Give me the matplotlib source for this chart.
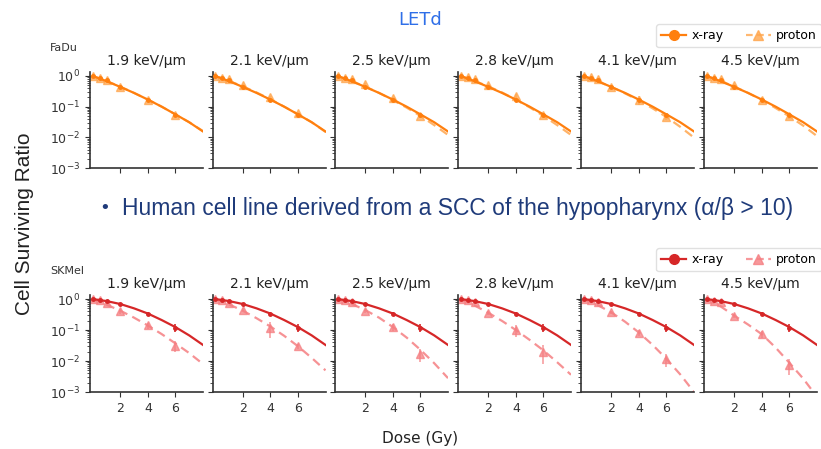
import numpy as np
import matplotlib.pyplot as plt
from matplotlib.lines import Line2D

# panel titles (LETd of the proton beam)
let_labels = ["1.9 keV/µm", "2.1 keV/µm", "2.5 keV/µm", "2.8 keV/µm", "4.1 keV/µm", "4.5 keV/µm"]

# measured doses and dose grid of the fitted curves (Gy)
dose_pts = [0, 0.5, 1, 2, 4, 6]
dose_fit = [0, 1, 2, 3, 4, 5, 6, 7, 8]

# FaDu - x-ray
fadu_xray_pts = [1.0, 0.85, 0.72, 0.45, 0.17, 0.055]
fadu_xray_err = [0, 0, 0, 0.02, 0.01, 0.004]
fadu_xray_fit = [1.0, 0.68, 0.44, 0.28, 0.17, 0.10, 0.056, 0.031, 0.0155]

# FaDu - protons, one list per LETd
fadu_prot_pts = [
    [1.0, 0.85, 0.75, 0.44, 0.17, 0.054],
    [1.0, 0.88, 0.78, 0.51, 0.20, 0.061],
    [1.0, 0.86, 0.78, 0.55, 0.19, 0.048],
    [1.0, 0.92, 0.80, 0.51, 0.22, 0.054],
    [1.0, 0.90, 0.80, 0.43, 0.17, 0.045],
    [1.0, 0.88, 0.78, 0.51, 0.17, 0.048],
]
fadu_prot_err = [
    [0, 0, 0, 0.03, 0.02, 0.006],
    [0, 0, 0, 0.03, 0.02, 0.006],
    [0, 0, 0, 0.03, 0.02, 0.006],
    [0, 0, 0, 0.03, 0.03, 0.006],
    [0, 0, 0, 0.04, 0.06, 0.008],
    [0, 0, 0, 0.03, 0.03, 0.008],
]
fadu_prot_fit = [
    [1.0, 0.68, 0.45, 0.28, 0.17, 0.10, 0.056, 0.031, 0.016],
    [1.0, 0.69, 0.46, 0.29, 0.175, 0.10, 0.057, 0.031, 0.015],
    [1.0, 0.68, 0.45, 0.28, 0.165, 0.093, 0.050, 0.025, 0.012],
    [1.0, 0.69, 0.46, 0.29, 0.17, 0.095, 0.050, 0.025, 0.012],
    [1.0, 0.68, 0.44, 0.27, 0.16, 0.088, 0.046, 0.022, 0.0098],
    [1.0, 0.69, 0.45, 0.28, 0.165, 0.090, 0.048, 0.024, 0.011],
]

# SKMel - x-ray
skmel_xray_pts = [1.0, 0.95, 0.88, 0.70, 0.34, 0.12]
skmel_xray_err = [0, 0, 0, 0.02, 0.03, 0.035]
skmel_xray_fit = [1.0, 0.86, 0.69, 0.50, 0.34, 0.21, 0.124, 0.067, 0.033]

# SKMel - protons
skmel_prot_pts = [
    [1.0, 0.90, 0.72, 0.40, 0.14, 0.031],
    [1.0, 0.92, 0.75, 0.45, 0.115, 0.030],
    [1.0, 0.92, 0.80, 0.40, 0.125, 0.017],
    [1.0, 0.95, 0.78, 0.35, 0.10, 0.020],
    [1.0, 0.92, 0.80, 0.37, 0.083, 0.0116],
    [1.0, 0.88, 0.80, 0.29, 0.074, 0.0076],
]
skmel_prot_err = [
    [0, 0, 0, 0.06, 0.03, 0.012],
    [0, 0, 0, 0.05, 0.06, 0.006],
    [0, 0, 0, 0.05, 0.03, 0.008],
    [0, 0, 0, 0.05, 0.04, 0.012],
    [0, 0, 0, 0.05, 0.02, 0.005],
    [0, 0, 0, 0.05, 0.02, 0.004],
]
skmel_prot_fit = [
    [1.0, 0.66, 0.42, 0.25, 0.14, 0.074, 0.037, 0.018, 0.008],
    [1.0, 0.67, 0.42, 0.24, 0.13, 0.065, 0.030, 0.0126, 0.005],
    [1.0, 0.70, 0.44, 0.25, 0.125, 0.057, 0.023, 0.0085, 0.0028],
    [1.0, 0.62, 0.36, 0.196, 0.10, 0.048, 0.022, 0.0091, 0.0036],
    [1.0, 0.64, 0.37, 0.185, 0.083, 0.033, 0.0117, 0.0037, 0.001],
    [1.0, 0.58, 0.29, 0.15, 0.073, 0.027, 0.0087, 0.0027, 0.0007],
]

W, H = 821, 449
fig = plt.figure(figsize=(W / 100, H / 100), dpi=100)

lefts = [90, 212.5, 335, 458, 581, 704]
pw = 113

rows = [
    # name, top px, bottom px, colour, xray, protons
    ("FaDu", 72, 168, "#ff7f0e", "#ffa64d",
     fadu_xray_pts, fadu_xray_err, fadu_xray_fit, fadu_prot_pts, fadu_prot_err, fadu_prot_fit),
    ("SKMel", 295, 392, "#d62728", "#f57f82",
     skmel_xray_pts, skmel_xray_err, skmel_xray_fit, skmel_prot_pts, skmel_prot_err, skmel_prot_fit),
]

for r, (name, top, bot, c, cp, xp, xe, xf, pp, pe, pf) in enumerate(rows):
    for i in range(6):
        ax = fig.add_axes([lefts[i] / W, 1 - bot / H, pw / W, (bot - top) / H])
        ax.plot(dose_fit, xf, color=c, lw=1.6, zorder=3)
        ax.errorbar(dose_pts, xp, yerr=xe, fmt="o", ms=2.5, color=c, elinewidth=1.2, zorder=3)
        ax.plot(dose_fit, pf[i], color=cp, lw=1.6, ls=(0, (4, 2.5)), alpha=0.85, zorder=2)
        ax.errorbar(dose_pts, pp[i], yerr=pe[i], fmt="^", ms=6, color=cp, alpha=0.75,
                    elinewidth=1.2, zorder=2)
        ax.set_yscale("log")
        ax.set_ylim(1e-3, 1.35)
        ax.set_xlim(-0.2, 8)
        ax.set_xticks([2, 4, 6])
        ax.set_yticks([1e-3, 1e-2, 1e-1, 1])
        ax.spines["top"].set_visible(False)
        ax.spines["right"].set_visible(False)
        for s in ["left", "bottom"]:
            ax.spines[s].set_color("#333333")
            ax.spines[s].set_linewidth(1.2)
        ax.tick_params(labelsize=9, colors="#333333", length=3.5)
        ax.tick_params(which="minor", length=2, colors="#333333")
        if i > 0:
            ax.tick_params(labelleft=False)
        if r == 0:
            ax.tick_params(labelbottom=False)
        ax.set_title(let_labels[i], fontsize=10, color="#222222", pad=5)
    fig.text(50 / W, 1 - (top - 24) / H, name, fontsize=8, color="#333333", va="center")

    handles = [
        Line2D([], [], color=c, lw=1.6, marker="o", ms=7),
        Line2D([], [], color=cp, lw=1.6, ls=(0, (3, 2)), marker="^", ms=7, alpha=0.8),
    ]
    leg_top = 18 if r == 0 else 242
    fig.legend(handles, ["x-ray", "proton"], ncol=2, fontsize=9, loc="upper left",
               bbox_to_anchor=(650 / W, 1 - leg_top / H), handlelength=2.0,
               columnspacing=1.8, handletextpad=0.4, borderpad=0.4, framealpha=0.9,
               edgecolor="#dddddd")

fig.text(420 / W, 1 - 20 / H, "LETd", fontsize=13, color="#2f6fe8", ha="center", va="center")
fig.text(105 / W, 1 - 208 / H, "•", fontsize=13, color="#1f3b7a", ha="center", va="center")
fig.text(122 / W, 1 - 208 / H, "Human cell line derived from a SCC of the hypopharynx (α/β > 10)",
         fontsize=16.5, color="#1f3b7a", va="center",
         family=["Liberation Sans Narrow", "Liberation Sans", "DejaVu Sans"])
fig.text(24 / W, 1 - 224 / H, "Cell Surviving Ratio", fontsize=15, rotation=90,
         ha="center", va="center", family="Liberation Sans", color="#222222")
fig.text(420 / W, 1 - 438 / H, "Dose (Gy)", fontsize=11, ha="center", va="center", color="#222222")

fig.savefig("out.png", dpi=100)
